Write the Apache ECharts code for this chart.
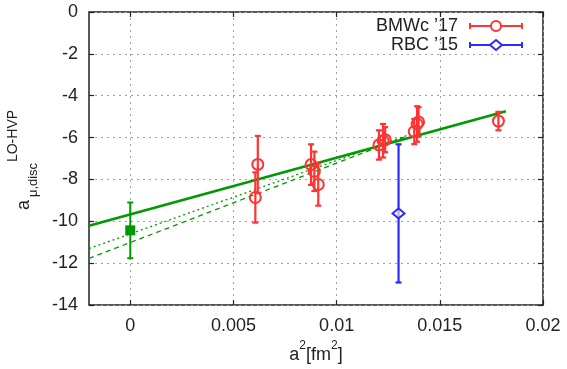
<!DOCTYPE html>
<html><head><meta charset="utf-8">
<script src="https://cdn.jsdelivr.net/npm/echarts@6/dist/echarts.min.js"></script>
<style>html,body{margin:0;padding:0;background:#fff}#c{width:567px;height:369px}</style>
</head><body><div id="c"></div>
<script>
// ---- data ----
const xTicks = [0, 0.005, 0.01, 0.015, 0.02];
const bmwX   = [0.00606, 0.00618, 0.00876, 0.00892, 0.00911, 0.01205, 0.01225, 0.01235, 0.01376, 0.01390, 0.01397, 0.01784];
const bmwY   = [-8.86, -7.28, -7.29, -7.61, -8.24, -6.35, -6.15, -6.10, -5.71, -5.35, -5.25, -5.21];
const bmwErr = [1.20, 1.36, 0.97, 0.94, 1.01, 0.70, 0.80, 0.60, 0.60, 0.85, 0.70, 0.44];
const rbcX = [0.0130];
const rbcY = [-9.62];
const rbcErr = [3.30];
const extX = [0];
const extY = [-10.43];
const extErr = [1.33];
const fitSolidX  = [-0.002, 0.0182];
const fitSolidY  = [-10.21, -4.74];
const fitDotX    = [-0.002, 0.0134];
const fitDotY    = [-11.30, -5.90];
const fitDashX   = [-0.002, 0.0134];
const fitDashY   = [-11.77, -5.93];

const RED = '#ff3333', BLUE = '#2b2bff', GREEN = '#009900';
const FONT = 'Liberation Sans';

function zip3(a, b, c) { return a.map((v, i) => [v, b[i], c[i]]); }
function zip2(a, b) { return a.map((v, i) => [v, b[i]]); }

function errRender(color, cap, lw) {
  return function (params, api) {
    const x = api.value(0), y = api.value(1), e = api.value(2);
    const t = api.coord([x, y + e]), b = api.coord([x, y - e]);
    const st = { stroke: color, lineWidth: lw };
    return { type: 'group', children: [
      { type: 'line', shape: { x1: t[0], y1: t[1], x2: b[0], y2: b[1] }, style: st },
      { type: 'line', shape: { x1: t[0] - cap, y1: t[1], x2: t[0] + cap, y2: t[1] }, style: st },
      { type: 'line', shape: { x1: b[0] - cap, y1: b[1], x2: b[0] + cap, y2: b[1] }, style: st }
    ]};
  };
}

const chart = echarts.init(document.getElementById('c'), null, { renderer: 'canvas' });
const gridLine = { show: true, lineStyle: { color: '#a0a0a0', width: 1, type: [2, 4] } };
const axisText = { color: '#222', fontFamily: FONT, fontSize: 18 };
const tickStyle = { color: '#222', width: 1.2 };

chart.setOption({
  animation: false,
  backgroundColor: '#fff',
  grid: { left: 89, right: 24, top: 12, bottom: 60, show: true, borderColor: '#222', borderWidth: 1.5, backgroundColor: 'transparent' },
  xAxis: [{
    type: 'value', min: -0.002, max: 0.02,
    axisLine: { show: false, onZero: false },
    axisTick: { show: true, inside: true, length: 5, customValues: xTicks, lineStyle: tickStyle },
    axisLabel: Object.assign({ customValues: xTicks, margin: 12 }, axisText),
    splitLine: gridLine,
    name: '{n|a}{s|2}{n|[fm}{s|2}{n|]}', nameLocation: 'middle', nameGap: 31,
    nameTextStyle: { rich: {
      n: { fontFamily: FONT, fontSize: 18, color: '#222', verticalAlign: 'bottom', lineHeight: 24 },
      s: { fontFamily: FONT, fontSize: 12, color: '#222', verticalAlign: 'top', lineHeight: 12 }
    } }
  }, {
    type: 'value', min: -0.002, max: 0.02, position: 'top',
    axisLine: { show: false, onZero: false },
    axisTick: { show: true, inside: true, length: 5, customValues: xTicks, lineStyle: tickStyle },
    axisLabel: { show: false }, splitLine: { show: false }
  }],
  yAxis: [{
    type: 'value', min: -14, max: 0, interval: 2,
    axisLine: { show: false, onZero: false },
    axisTick: { show: true, inside: true, length: 5, lineStyle: tickStyle },
    axisLabel: Object.assign({ margin: 11 }, axisText),
    splitLine: gridLine
  }, {
    type: 'value', min: -14, max: 0, interval: 2, position: 'right',
    axisLine: { show: false, onZero: false },
    axisTick: { show: true, inside: true, length: 5, lineStyle: tickStyle },
    axisLabel: { show: false }, splitLine: { show: false }
  }],
  graphic: [
    { type: 'text', x: 24, y: 205, rotation: Math.PI / 2, style: { text: 'a', fontFamily: FONT, fontSize: 18, fill: '#222', align: 'center', verticalAlign: 'middle' } },
    { type: 'text', x: 33, y: 180, rotation: Math.PI / 2, style: { text: 'μ,disc', fontFamily: FONT, fontSize: 13, fill: '#222', align: 'center', verticalAlign: 'middle' } },
    { type: 'text', x: 13, y: 136, rotation: Math.PI / 2, style: { text: 'LO-HVP', fontFamily: FONT, fontSize: 14, fill: '#222', align: 'center', verticalAlign: 'middle' } },
    // legend
    { type: 'text', x: 458, y: 26, style: { text: 'BMWc ’17', fontFamily: FONT, fontSize: 18, fill: '#222', align: 'right', verticalAlign: 'middle' } },
    { type: 'line', shape: { x1: 470, y1: 26, x2: 522, y2: 26 }, style: { stroke: RED, lineWidth: 2 } },
    { type: 'line', shape: { x1: 470, y1: 23, x2: 470, y2: 29 }, style: { stroke: RED, lineWidth: 2 } },
    { type: 'line', shape: { x1: 522, y1: 23, x2: 522, y2: 29 }, style: { stroke: RED, lineWidth: 2 } },
    { type: 'circle', shape: { cx: 496, cy: 26, r: 5 }, style: { stroke: RED, lineWidth: 2, fill: '#fff' } },
    { type: 'text', x: 458, y: 45, style: { text: 'RBC ’15', fontFamily: FONT, fontSize: 18, fill: '#222', align: 'right', verticalAlign: 'middle' } },
    { type: 'line', shape: { x1: 470, y1: 45, x2: 522, y2: 45 }, style: { stroke: BLUE, lineWidth: 2 } },
    { type: 'line', shape: { x1: 470, y1: 42, x2: 470, y2: 48 }, style: { stroke: BLUE, lineWidth: 2 } },
    { type: 'line', shape: { x1: 522, y1: 42, x2: 522, y2: 48 }, style: { stroke: BLUE, lineWidth: 2 } },
    { type: 'polygon', shape: { points: [[496, 40], [502, 45], [496, 50], [490, 45]] }, style: { stroke: BLUE, lineWidth: 2, fill: '#fff' } }
  ],
  series: [
    { type: 'line', data: zip2(fitDotX, fitDotY), symbol: 'none', lineStyle: { color: GREEN, width: 1.3, type: [2, 3] }, z: 2 },
    { type: 'line', data: zip2(fitDashX, fitDashY), symbol: 'none', lineStyle: { color: GREEN, width: 1.3, type: [5, 4] }, z: 2 },
    { type: 'line', data: zip2(fitSolidX, fitSolidY), symbol: 'none', lineStyle: { color: GREEN, width: 2.6 }, z: 3 },
    { type: 'custom', data: zip3(extX, extY, extErr), renderItem: errRender(GREEN, 3, 2), z: 4 },
    { type: 'scatter', data: zip2(extX, extY), symbol: 'rect', symbolSize: 10, itemStyle: { color: GREEN, opacity: 1 }, z: 5 },
    { type: 'custom', data: zip3(rbcX, rbcY, rbcErr), renderItem: errRender(BLUE, 3, 2.2), z: 4 },
    { type: 'scatter', data: zip2(rbcX, rbcY), symbol: 'diamond', symbolSize: [12, 10], itemStyle: { color: 'rgba(255,255,255,0.6)', borderColor: BLUE, borderWidth: 2, opacity: 1 }, z: 5 },
    { type: 'custom', data: zip3(bmwX, bmwY, bmwErr), renderItem: errRender(RED, 3, 2.2), z: 4 },
    { type: 'scatter', data: zip2(bmwX, bmwY), symbol: 'circle', symbolSize: 11, itemStyle: { color: 'rgba(0,0,0,0)', borderColor: RED, borderWidth: 2, opacity: 1 }, z: 5 }
  ]
});
</script>
</body></html>
